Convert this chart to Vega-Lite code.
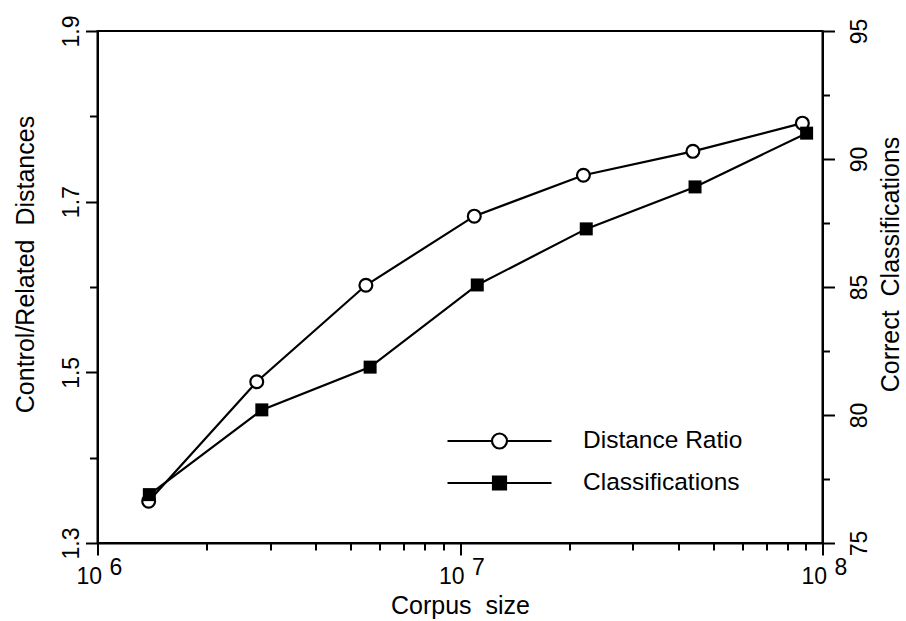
{
  "$schema": "https://vega.github.io/schema/vega-lite/v6.json",
  "width": 725,
  "height": 512,
  "autosize": "none",
  "padding": {"left": 97.5, "top": 31, "right": 83.5, "bottom": 78},
  "background": "white",
  "config": {
    "font": "Liberation Sans",
    "view": {"stroke": "black", "strokeWidth": 2},
    "axis": {
      "domainColor": "black", "domainWidth": 2,
      "tickColor": "black", "tickWidth": 2,
      "labelColor": "black", "titleColor": "black",
      "labelFont": "Liberation Sans", "titleFont": "Liberation Sans",
      "labelFontSize": 23, "titleFontSize": 25, "titleFontWeight": "normal",
      "grid": false, "labelFlush": false, "labelOverlap": false, "labelBound": false
    }
  },
  "datasets": {
    "ratio": [
      {"series": "Distance Ratio", "size": 1384000, "ratio": 1.349},
      {"series": "Distance Ratio", "size": 2750000, "ratio": 1.489},
      {"series": "Distance Ratio", "size": 5500000, "ratio": 1.602},
      {"series": "Distance Ratio", "size": 10950000, "ratio": 1.683},
      {"series": "Distance Ratio", "size": 21900000, "ratio": 1.731},
      {"series": "Distance Ratio", "size": 43900000, "ratio": 1.759},
      {"series": "Distance Ratio", "size": 88000000, "ratio": 1.792}
    ],
    "cls": [
      {"series": "Classifications", "size": 1390000, "pct": 76.89},
      {"series": "Classifications", "size": 2840000, "pct": 80.2},
      {"series": "Classifications", "size": 5650000, "pct": 81.87},
      {"series": "Classifications", "size": 11160000, "pct": 85.08},
      {"series": "Classifications", "size": 22300000, "pct": 87.27},
      {"series": "Classifications", "size": 44500000, "pct": 88.91},
      {"series": "Classifications", "size": 90400000, "pct": 91.01}
    ],
    "exps": [
      {"size": 1000000, "e": "6"},
      {"size": 10000000, "e": "7"},
      {"size": 100000000, "e": "8"}
    ]
  },
  "layer": [
    {
      "layer": [
        {
          "data": {"name": "ratio"},
          "mark": {"type": "line", "color": "black", "strokeWidth": 2.2},
          "encoding": {
            "x": {
              "field": "size", "type": "quantitative", "title": "Corpus\u00a0 size",
              "scale": {"type": "log", "domain": [1000000, 100000000], "nice": false},
              "axis": {
                "orient": "bottom",
                "values": [1000000, 2000000, 3000000, 4000000, 5000000, 6000000, 7000000, 8000000, 9000000, 10000000, 20000000, 30000000, 40000000, 50000000, 60000000, 70000000, 80000000, 90000000, 100000000],
                "labelExpr": "(datum.value == 1000000 || datum.value == 10000000 || datum.value == 100000000) ? '10' : ''",
                "tickSize": {"condition": {"test": "datum.value == 1000000 || datum.value == 10000000 || datum.value == 100000000", "value": 12}, "value": 7},
                "labelAlign": "right", "labelBaseline": "alphabetic", "labelOffset": 4, "labelPadding": 28,
                "titleX": 362.5, "titleY": 70, "titleAlign": "center", "titleBaseline": "alphabetic"
              }
            },
            "y": {
              "field": "ratio", "type": "quantitative", "title": "Control/Related\u00a0 Distances",
              "scale": {"domain": [1.3, 1.9], "nice": false, "zero": false},
              "axis": {
                "orient": "left",
                "values": [1.3, 1.4, 1.5, 1.6, 1.7, 1.8, 1.9],
                "labelExpr": "(datum.value == 1.4 || datum.value == 1.6 || datum.value == 1.8) ? '' : format(datum.value, '.1f')",
                "tickSize": {"condition": {"test": "datum.value == 1.4 || datum.value == 1.6 || datum.value == 1.8", "value": 8}, "value": 12},
                "labelAngle": 270, "labelAlign": "center", "labelBaseline": "alphabetic", "labelPadding": 7.5,
                "titleAngle": 270, "titleX": -64.5, "titleY": 233, "titleAlign": "center", "titleBaseline": "alphabetic"
              }
            }
          }
        },
        {
          "data": {"name": "ratio"},
          "mark": {"type": "point", "shape": "circle", "filled": true, "stroke": "black", "strokeWidth": 2.2, "size": 165, "opacity": 1},
          "encoding": {
            "x": {"field": "size", "type": "quantitative", "title": "Corpus\u00a0 size"},
            "y": {"field": "ratio", "type": "quantitative", "title": "Control/Related\u00a0 Distances"},
            "fill": {
              "field": "series", "type": "nominal",
              "scale": {"domain": ["Distance Ratio", "Classifications"], "range": ["white", "black"]},
              "legend": {
                "title": null, "orient": "none", "legendX": 348.5, "legendY": 389, "padding": 0,
                "clipHeight": 42, "rowPadding": 0, "symbolSize": 10816,
                "symbolStrokeColor": "black", "symbolStrokeWidth": 2, "symbolOpacity": 1,
                "labelOffset": 30, "labelFontSize": 24.5, "labelFont": "Liberation Sans", "labelColor": "black",
                "labelBaseline": "middle", "labelLimit": 400,
                "encode": {
                  "symbols": {
                    "update": {
                      "shape": {"signal": "datum.value === 'Distance Ratio' ? 'M-1,0H-0.144M0.144,0H1M-0.144,0A0.144,0.144,0,1,1,0.144,0A0.144,0.144,0,1,1,-0.144,0Z' : 'M-1,0H1M-0.125,-0.125H0.125V0.125H-0.125Z'"},
                      "stroke": {"value": "black"},
                      "strokeWidth": {"value": 2.2},
                      "opacity": {"value": 1}
                    }
                  }
                }
              }
            }
          }
        },
        {
          "data": {"name": "exps"},
          "mark": {"type": "text", "align": "left", "baseline": "alphabetic", "dx": 12, "dy": 32, "fontSize": 23, "font": "Liberation Sans", "color": "black"},
          "encoding": {
            "x": {"field": "size", "type": "quantitative", "title": "Corpus\u00a0 size"},
            "y": {"datum": 1.3, "type": "quantitative", "title": "Control/Related\u00a0 Distances"},
            "text": {"field": "e", "type": "nominal"}
          }
        }
      ]
    },
    {
      "layer": [
        {
          "data": {"name": "cls"},
          "mark": {"type": "line", "color": "black", "strokeWidth": 2.2},
          "encoding": {
            "x": {"field": "size", "type": "quantitative", "title": "Corpus\u00a0 size"},
            "y": {
              "field": "pct", "type": "quantitative", "title": "Correct\u00a0 Classifications",
              "scale": {"domain": [75, 95], "nice": false, "zero": false},
              "axis": {
                "orient": "right",
                "values": [75, 77.5, 80, 82.5, 85, 87.5, 90, 92.5, 95],
                "labelExpr": "(datum.value % 5 == 0) ? format(datum.value, 'd') : ''",
                "tickSize": {"condition": {"test": "datum.value % 5 == 0", "value": 12}, "value": 7},
                "labelAngle": 270, "labelAlign": "center", "labelBaseline": "alphabetic", "labelPadding": 32,
                "titleAngle": 270, "titleX": 76, "titleY": 233, "titleAlign": "center", "titleBaseline": "alphabetic"
              }
            }
          }
        },
        {
          "data": {"name": "cls"},
          "mark": {"type": "point", "shape": "square", "filled": true, "stroke": "black", "strokeWidth": 0, "size": 169, "opacity": 1},
          "encoding": {
            "x": {"field": "size", "type": "quantitative", "title": "Corpus\u00a0 size"},
            "y": {"field": "pct", "type": "quantitative", "title": "Correct\u00a0 Classifications"},
            "fill": {"field": "series", "type": "nominal"}
          }
        }
      ]
    }
  ],
  "resolve": {"scale": {"y": "independent"}}
}
